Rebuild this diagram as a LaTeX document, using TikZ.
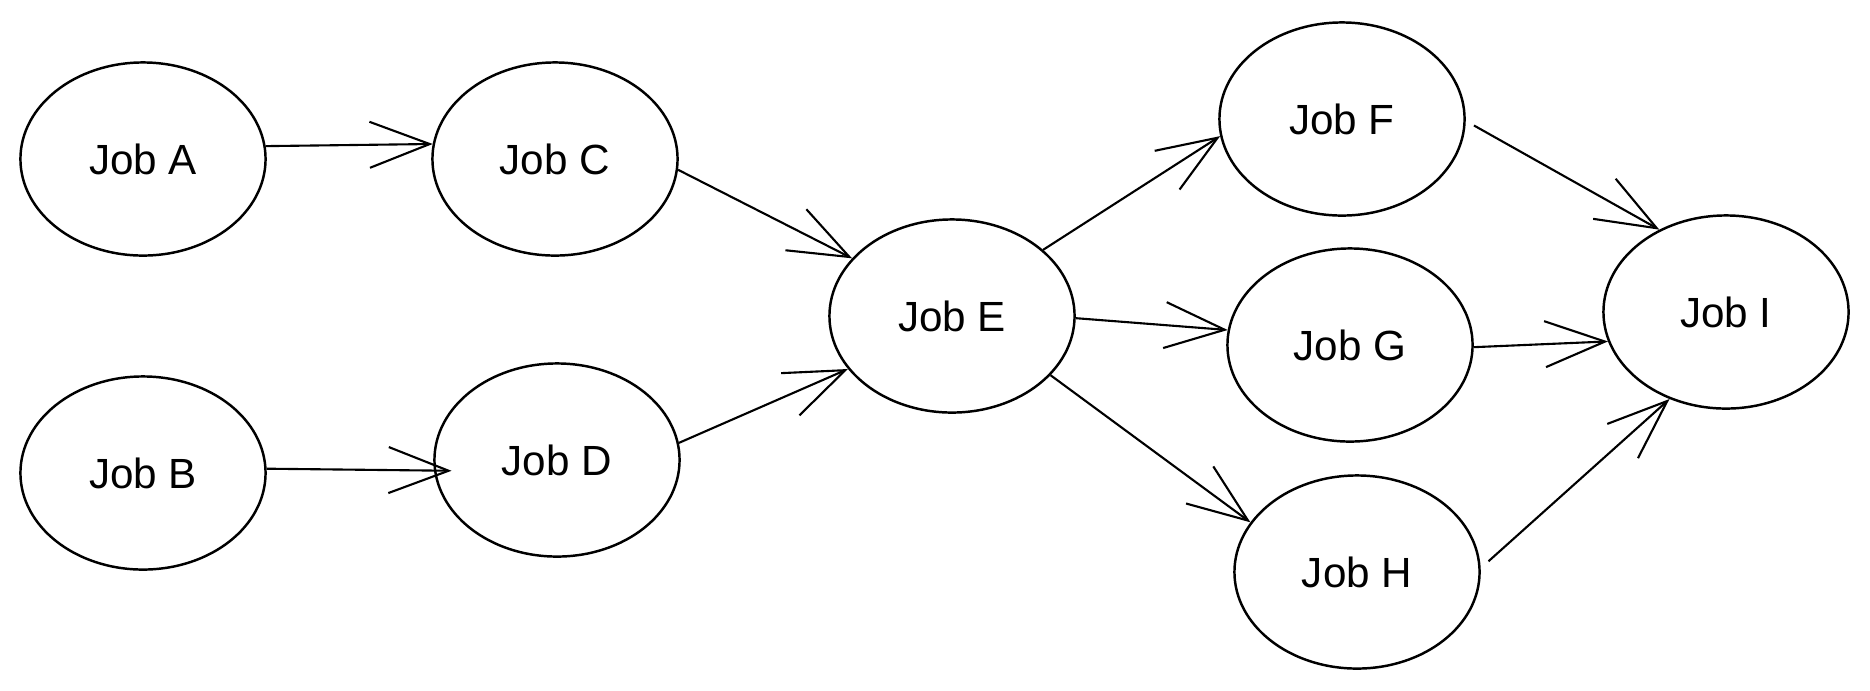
\documentclass[tikz,border=0pt]{standalone}
\usepackage{fontspec}
\setmainfont{Liberation Sans}
\usetikzlibrary{shapes.geometric,arrows.meta}

\tikzset{
  job/.style={ellipse, draw, line width=0.7pt, minimum width=2.45cm, minimum height=1.93cm, inner sep=0pt, font=\fontsize{12}{14}\selectfont},
  dep/.style={-{Straight Barb[length=6mm,width=4.6mm,line width=0.6pt]}, line width=0.6pt}
}

\begin{document}
\begin{tikzpicture}[x=0.01cm,y=-0.01cm]
\useasboundingbox (0,0) rectangle (1870,690);
\node[job] (A) at (143,159) {Job A};
\node[job] (C) at (555,159) {Job C};
\node[job] (B) at (143,473) {Job B};
\node[job] (D) at (557,460) {Job D};
\node[job] (E) at (952,316) {Job E};
\node[job] (F) at (1342,119) {Job F};
\node[job] (G) at (1350,345) {Job G};
\node[job] (H) at (1357,572) {Job H};
\node[job] (I) at (1726,312) {Job I};
% anchors picked to follow the sketch
\draw[dep] (A.6) -- (C.173);
\draw[dep] (B.2) -- ([xshift=5pt]D.185);
\draw[dep] (C.-5) -- (E.150);
\draw[dep] (D.8) -- (E.207);
\draw[dep] (E.36) -- (F.188);
\draw[dep] (E.-1) -- (G.173);
\draw[dep] (E.-31) -- (H.155);
\draw[dep] ([xshift=2.4pt]F.-3) -- (I.129);
\draw[dep] (G.-1) -- (I.194);
\draw[dep] ([xshift=2.4pt]H.5) -- (I.237);
\end{tikzpicture}
\end{document}
